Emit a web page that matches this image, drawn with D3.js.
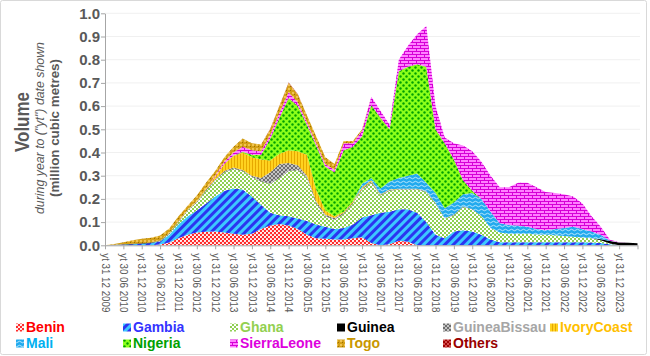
<!DOCTYPE html>
<html><head><meta charset="utf-8">
<script src="https://cdn.jsdelivr.net/npm/d3@7"></script>
<style>body{margin:0;background:#fff}svg{display:block;font-family:"Liberation Sans",Arial,sans-serif}</style>
</head><body>
<svg id="c" width="650" height="356"></svg>
<script>
const dates = ["2009-12","2010-03","2010-06","2010-09","2010-12","2011-03","2011-06","2011-09","2011-12","2012-03","2012-06","2012-09","2012-12","2013-03","2013-06","2013-09","2013-12","2014-03","2014-06","2014-09","2014-12","2015-03","2015-06","2015-09","2015-12","2016-03","2016-06","2016-09","2016-12","2017-03","2017-06","2017-09","2017-12","2018-03","2018-06","2018-09","2018-12","2019-03","2019-06","2019-09","2019-12","2020-03","2020-06","2020-09","2020-12","2021-03","2021-06","2021-09","2021-12","2022-03","2022-06","2022-09","2022-12","2023-03","2023-06","2023-09","2023-12","2024-03","2024-06"];

const benin = [0,0,0,0,0,0,.003,.012,.030,.045,.055,.058,.060,.055,.050,.045,.050,.070,.085,.092,.085,.070,.045,.030,.028,.025,.025,.030,.035,.010,0,.005,.020,.015,0,0,0,0,0,0,0,0,0,0,0,0,0,0,0,0,0,0,0,0,0,0,0,0,0];
const gambia = [0,.001,.003,.005,.007,.010,.013,.033,.060,.080,.095,.122,.150,.180,.195,.195,.160,.105,.055,.038,.040,.045,.060,.060,.052,.045,.050,.060,.085,.120,.140,.140,.135,.140,.140,.100,.045,.030,.060,.065,.060,.045,.025,.013,.013,.013,.013,.013,.013,.013,.013,.013,.013,.012,.010,.004,0,0,0];
const ghana = [0,0,0,0,0,0,.002,.005,.010,.025,.035,.055,.070,.080,.085,.080,.085,.100,.125,.160,.195,.210,.185,.090,.045,.040,.060,.090,.120,.140,.075,.090,.085,.085,.100,.130,.135,.085,.070,.100,.095,.080,.050,.042,.037,.037,.037,.034,.032,.030,.027,.024,.021,.018,.012,.004,0,0,0];
const guinea = [0,.001,.001,.002,.002,.002,.002,.002,.002,.001,.001,.001,.001,.001,.001,.001,.001,.001,.001,.001,.001,.001,.001,.001,.001,.001,.001,.001,.001,.001,.001,.001,.001,.001,.001,.001,.001,.001,.001,.001,.001,0,0,0,0,0,0,0,0,0,0,0,0,0,.004,.010,.012,.011,.009];
const guineaBissau = [0,0,0,0,0,0,.001,.001,.001,.001,.003,.004,.004,.004,.004,.004,.004,.014,.049,.059,.034,.019,.009,.009,.007,.007,.004,.004,.004,.004,.002,.002,.002,.002,.002,.002,.002,.002,.002,.002,.001,.001,0,0,0,0,0,0,0,0,0,0,0,0,0,0,0,0,0];
const ivoryCoast = [0,0,0,0,0,0,0,0,.001,.001,.003,.005,.010,.030,.050,.075,.080,.080,.050,.045,.055,.060,.090,.050,.017,.007,.005,.005,.005,.005,.002,.002,.001,.001,.001,0,0,0,0,0,0,0,0,0,0,0,0,0,0,0,0,0,0,0,0,0,0,0,0];
const mali = [0,0,0,0,0,0,0,0,0,0,0,0,0,0,0,0,0,0,0,0,0,0,0,0,0,0,0,0,.015,.010,.025,.035,.046,.056,.066,.037,.042,.042,.052,.052,.068,.074,.070,.040,.037,.035,.030,.023,.020,.027,.035,.043,.036,.030,.019,.002,0,0,0];
const nigeria = [0,0,0,0,0,0,0,0,0,0,0,0,0,.002,.002,.003,.010,.020,.095,.155,.225,.195,.130,.190,.190,.190,.265,.235,.205,.315,.305,.225,.460,.470,.470,.500,.275,.280,.185,.060,.010,0,0,0,0,0,0,0,0,0,0,0,0,0,0,0,0,0,0];
const sierraLeone = [0,0,0,0,0,0,0,0,0,0,0,0,.005,.008,.013,.022,.020,.015,.015,.020,.025,.015,.010,.010,.010,.010,.030,.015,.025,.035,.030,.020,.050,.090,.130,.175,.100,.025,.070,.150,.170,.160,.155,.155,.163,.185,.190,.180,.165,.155,.145,.130,.110,.065,.035,.004,.001,0,0];
const togo = [0,.004,.009,.015,.019,.021,.021,.019,.021,.017,.023,.025,.020,.020,.025,.035,.030,.030,.025,.030,.040,.035,.030,.030,.030,.025,.010,.010,.005,0,0,0,0,0,0,0,0,0,0,0,0,0,0,0,0,0,0,0,0,0,0,0,0,0,0,0,0,0,0];
const others = [0,0,0,0,0,0,0,0,0,0,0,0,0,0,0,0,0,0,.002,.002,.002,.002,0,0,0,0,0,0,0,0,0,0,0,0,0,0,0,0,0,0,0,0,0,0,0,0,0,0,0,0,0,0,0,0,0,0,0,0,0];

const seriesNames = ["Benin","Gambia","Ghana","Guinea","GuineaBissau","IvoryCoast","Mali","Nigeria","SierraLeone","Togo","Others"];
const seriesValues = [benin,gambia,ghana,guinea,guineaBissau,ivoryCoast,mali,nigeria,sierraLeone,togo,others];
const tickLabels = ["yt 31 12 2009","yt 30 06 2010","yt 31 12 2010","yt 30 06 2011","yt 31 12 2011","yt 30 06 2012","yt 31 12 2012","yt 30 06 2013","yt 31 12 2013","yt 30 06 2014","yt 31 12 2014","yt 30 06 2015","yt 31 12 2015","yt 30 06 2016","yt 31 12 2016","yt 30 06 2017","yt 31 12 2017","yt 30 06 2018","yt 31 12 2018","yt 30 06 2019","yt 31 12 2019","yt 30 06 2020","yt 31 12 2020","yt 30 06 2021","yt 31 12 2021","yt 30 06 2022","yt 31 12 2022","yt 30 06 2023","yt 31 12 2023"];
const yTicks = [0,0.1,0.2,0.3,0.4,0.5,0.6,0.7,0.8,0.9,1.0];

const svg = d3.select("#c");
const monthIndex = s => { const [yy, mm] = s.split("-").map(Number); return (yy - 2009) * 12 + mm - 12; };
const x = d3.scaleLinear().domain([0, 174]).range([105, 637.5]);
const y = d3.scaleLinear().domain([0, 1]).range([245.3, 13.3]);

// patterns
const defs = svg.append("defs");
function pat(id, w, h, bg, draw, rot) {
  const p = defs.append("pattern").attr("id", id).attr("patternUnits", "userSpaceOnUse").attr("width", w).attr("height", h);
  if (rot) p.attr("patternTransform", `rotate(${rot})`);
  p.append("rect").attr("width", w).attr("height", h).attr("fill", bg);
  draw(p);
}
pat("p0", 4, 4, "#ff2a2a", p => { p.append("circle").attr("cx",1).attr("cy",1).attr("r",1.1).attr("fill","#fff"); p.append("circle").attr("cx",3).attr("cy",3).attr("r",1.1).attr("fill","#fff"); });
pat("p1", 6, 6, "#3cc8ff", p => { p.append("rect").attr("width",3).attr("height",6).attr("fill","#2b35f0"); }, 45);
pat("p2", 4, 4, "#ffffff", p => { p.append("rect").attr("width",2).attr("height",2).attr("fill","#8fd052"); p.append("rect").attr("x",2).attr("y",2).attr("width",2).attr("height",2).attr("fill","#8fd052"); });
pat("p3", 4, 4, "#000000", p => {});
pat("p4", 4, 4, "#c4c4c4", p => { p.append("path").attr("d","M0 0L4 4M4 0L0 4").attr("stroke","#6e6e6e").attr("stroke-width",1); });
pat("p5", 3, 3, "#ffd21f", p => { p.append("rect").attr("width",1).attr("height",3).attr("fill","#e6a800"); });
pat("p6", 6, 4, "#22aaee", p => { p.append("path").attr("d","M0 2Q1.5 0.5 3 2T6 2").attr("fill","none").attr("stroke","#d8f4ff").attr("stroke-width",0.8); });
pat("p7", 6, 6, "#8cff1a", p => { p.append("circle").attr("cx",1.5).attr("cy",1.5).attr("r",1.2).attr("fill","#00a000"); p.append("circle").attr("cx",4.5).attr("cy",4.5).attr("r",1.2).attr("fill","#00a000"); });
pat("p8", 8, 6, "#ff80ff", p => { p.append("path").attr("d","M0 0.5H8M0 3.5H8M0.5 0V3.5M4.5 3.5V6").attr("stroke","#d600d6").attr("stroke-width",1); });
pat("p9", 4, 4, "#d4a017", p => { p.append("rect").attr("width",2).attr("height",2).attr("fill","#f0c453"); p.append("rect").attr("x",2).attr("y",2).attr("width",1).attr("height",1).attr("fill","#9c6f00"); });
pat("p10", 4, 4, "#9e0000", p => { p.append("path").attr("d","M0 0L4 4M4 0L0 4").attr("stroke","#e06060").attr("stroke-width",0.8); });
const textColors = ["#ff0000","#3333ff","#92d050","#000000","#a6a6a6","#ffc000","#00b0f0","#00a000","#dd00dd","#c99700","#990000"];

// border
svg.append("rect").attr("x",0.5).attr("y",0.5).attr("width",646).attr("height",354).attr("rx",2).attr("fill","#fff").attr("stroke","#d9d9d9");

// gridlines
svg.append("g").selectAll("line").data(yTicks.filter(d => d > 0)).join("line")
  .attr("x1", 105).attr("x2", 640).attr("y1", d => y(d)).attr("y2", d => y(d))
  .attr("stroke", "#f0f0f0").attr("stroke-width", 1);

// data
const rows = dates.map((d, i) => { const r = { m: monthIndex(d) }; seriesNames.forEach((n, j) => r[n] = seriesValues[j][i]); return r; });
const stack = d3.stack().keys(seriesNames)(rows);
const area = d3.area().x(d => x(d.data.m)).y0(d => y(d[0])).y1(d => y(d[1])).curve(d3.curveLinear);
svg.append("g").selectAll("path").data(stack).join("path")
  .attr("d", area).attr("fill", (d, i) => `url(#p${i})`);

// axes
const axColor = "#a6a6a6";
const xAxis = svg.append("g").attr("transform", `translate(0,${y(0)})`)
  .call(d3.axisBottom(x).tickValues(d3.range(0, 175, 6)).tickFormat((d, i) => tickLabels[i] || "").tickSize(4).tickSizeOuter(0));
xAxis.select(".domain").attr("stroke", axColor);
xAxis.selectAll(".tick line").attr("stroke", axColor);
xAxis.selectAll(".tick text")
  .attr("transform", "rotate(90)").attr("x", 8).attr("y", 0).attr("dy", "0.35em")
  .attr("text-anchor", "start").attr("fill", "#595959").attr("font-size", "11px")
  .attr("textLength", 59).attr("lengthAdjust", "spacingAndGlyphs");

const yAxis = svg.append("g").attr("transform", "translate(105,0)")
  .call(d3.axisLeft(y).tickValues(yTicks).tickFormat(d3.format(".1f")).tickSize(4).tickSizeOuter(0));
yAxis.select(".domain").attr("stroke", axColor);
yAxis.selectAll(".tick line").attr("stroke", axColor);
yAxis.selectAll(".tick text").attr("x", -5).attr("fill", "#595959").attr("font-size", "15px").attr("font-weight", "bold");

// y titles
function vtext(txt, cx, cy, size, weight, style, len) {
  const t = svg.append("text").attr("transform", `translate(${cx},${cy}) rotate(-90)`)
    .attr("text-anchor", "middle").attr("dominant-baseline", "central")
    .attr("font-size", size + "px").attr("font-weight", weight).attr("font-style", style)
    .attr("fill", "#595959").text(txt);
  if (len) t.attr("textLength", len).attr("lengthAdjust", "spacingAndGlyphs");
}
vtext("Volume", 21, 122, 21, "bold", "normal", 60);
vtext("during year to (\"yt\") date shown", 40, 128, 12, "normal", "italic", 172);
vtext("(million cubic metres)", 55, 128, 12, "bold", "normal", 138);

// legend
const cols = [16, 123, 230, 337, 443, 550];
const leg = svg.append("g");
seriesNames.forEach((n, i) => {
  const row = i < 6 ? 0 : 1, col = i < 6 ? i : i - 6;
  const bx = cols[col], by = row === 0 ? 332 : 348;
  leg.append("rect").attr("x", bx).attr("y", by - 8.5).attr("width", 8).attr("height", 8).attr("fill", `url(#p${i})`);
  leg.append("text").attr("x", bx + 10).attr("y", by).attr("font-size", "14px").attr("font-weight", "bold")
    .attr("fill", textColors[i]).text(n);
});
</script>
</body></html>
